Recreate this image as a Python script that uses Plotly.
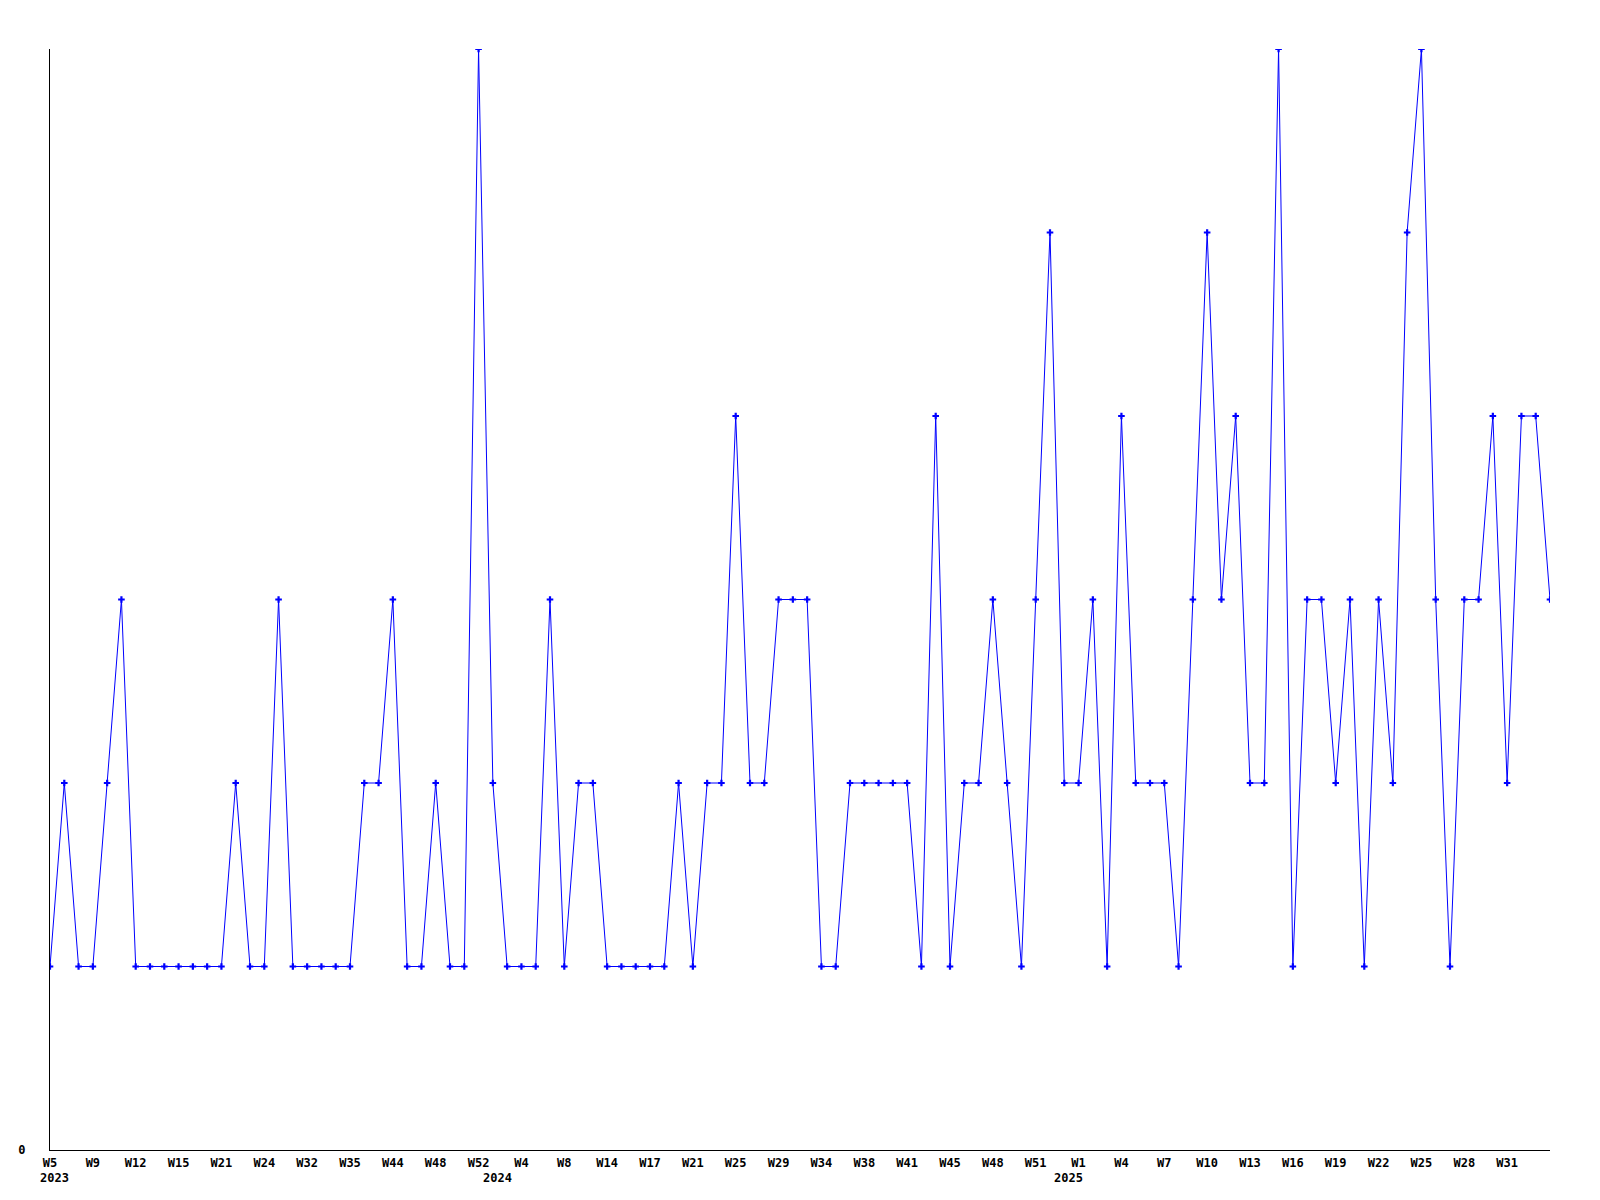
import plotly.graph_objects as go

# Week numbers per year (each point is one week with data)
weeks_2023 = [5, 6, 7, 9, 10, 11, 12, 13, 14, 15, 17, 19, 21, 22, 23, 24, 26, 29,
              32, 33, 34, 35, 38, 41, 44, 45, 46, 48, 49, 50, 52]
weeks_2024 = [1, 2, 4, 5, 6, 8, 10, 12, 14, 15, 16, 17, 18, 19, 21, 22, 23, 25, 26,
              27, 29, 30, 32, 34, 35, 36, 38, 39, 40, 41, 42, 43, 45, 46, 47, 48,
              49, 50, 51, 52]
weeks_2025 = list(range(0, 35))

values = [1, 2, 1, 1, 2, 3, 1, 1, 1, 1, 1, 1, 1, 2, 1, 1, 3, 1, 1, 1, 1, 1, 2, 2, 3,
          1, 1, 2, 1, 1, 6, 2, 1, 1, 1, 3, 1, 2, 2, 1, 1, 1, 1, 1, 2, 1, 2, 2, 4, 2,
          2, 3, 3, 3, 1, 1, 2, 2, 2, 2, 2, 1, 4, 1, 2, 2, 3, 2, 1, 3, 5, 2, 2, 3, 1,
          4, 2, 2, 2, 1, 3, 5, 3, 4, 2, 2, 6, 1, 3, 3, 2, 3, 1, 3, 2, 5, 6, 3, 1, 3,
          3, 4, 2, 4, 4, 3]

years = [2023] * len(weeks_2023) + [2024] * len(weeks_2024) + [2025] * len(weeks_2025)
weeks = weeks_2023 + weeks_2024 + weeks_2025
categories = [f"{y}-W{w:02d}" for y, w in zip(years, weeks)]
tick_step = 3

FONT = "DejaVu Sans Mono"

fig = go.Figure()
fig.add_trace(go.Scatter(
    x=categories, y=values, mode="lines+markers",
    line=dict(color="#0000ff", width=1),
    marker=dict(color="#0000ff", size=5.5, symbol="cross"),
    showlegend=False,
))

# label every 3rd week, except the final point
tick_idx = list(range(0, len(categories) - 1, tick_step))
tickvals = [categories[i] for i in tick_idx]
ticktext = [f"<b>W{weeks[i]}</b>" for i in tick_idx]

annotations = []
seen = set()
for c, y in zip(categories, years):
    if y not in seen:
        seen.add(y)
        annotations.append(dict(
            x=c, xref="x", y=0, yref="paper", text=f"<b>{y}</b>",
            showarrow=False, xanchor="left", yanchor="top",
            xshift=-12, yshift=-19,
            font=dict(family=FONT, size=12, color="black"),
        ))

fig.update_layout(
    width=1584, height=1184,
    margin=dict(l=42, r=42, t=41, b=42),
    paper_bgcolor="white", plot_bgcolor="white",
    annotations=annotations,
    xaxis=dict(
        type="category", range=[0, len(categories) - 1],
        tickmode="array", tickvals=tickvals, ticktext=ticktext,
        tickangle=0, automargin=False,
        showgrid=False, zeroline=False, showline=True, linecolor="black", linewidth=1,
        ticks="", ticklabelstandoff=2,
        tickfont=dict(family=FONT, size=12, color="black"),
    ),
    yaxis=dict(
        range=[0, 6], tickmode="array", tickvals=[0], ticktext=["<b>0</b>"],
        automargin=False,
        showgrid=False, zeroline=False, showline=True, linecolor="black", linewidth=1,
        ticks="", ticklabelstandoff=21,
        tickfont=dict(family=FONT, size=12, color="black"),
    ),
)

fig.write_html("out.html")
